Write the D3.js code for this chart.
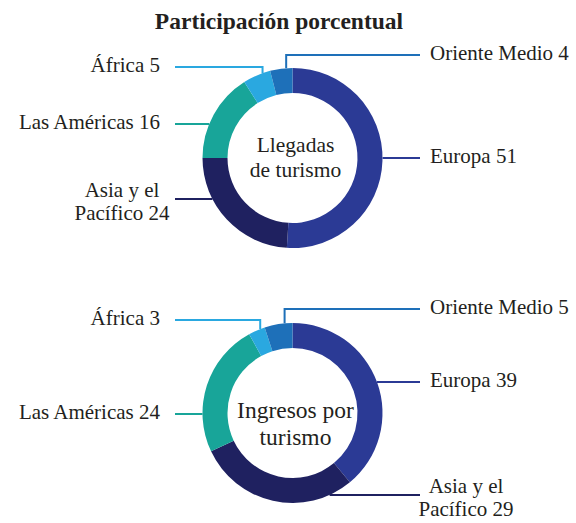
<!DOCTYPE html>
<html>
<head>
<meta charset="utf-8">
<script src="https://cdn.jsdelivr.net/npm/d3@7"></script>
</head>
<body style="margin:0; background:#fff">
<svg width="576" height="523"></svg>
<script>
// data
var regions = ["Europa", "Asia y el Pacífico", "Las Américas", "África", "Oriente Medio"]
var regionLabels = [["Europa"], ["Asia y el", "Pacífico"], ["Las Américas"], ["África"], ["Oriente Medio"]]
var llegadas = [51, 24, 16, 5, 4]
var ingresos = [39, 29, 24, 3, 5]
var regionColors = ["#2b3a95", "#1f2160", "#18a599", "#2aa8e0", "#1e70b9"]

var title = "Participación porcentual"

// per chart layout: where each leader line sits (dy from centre), side and kind
var charts = [
	{
		values: llegadas, cy: 158, center: ["Llegadas", "de turismo"], centerSize: 21.5, centerY: -6, centerGap: 25,
		leaders: [
			{ side: "right", dy: 0, kind: "h" },
			{ side: "left", dy: 41, kind: "h" },
			{ side: "left", dy: -34, kind: "h" },
			{ side: "left", dy: -91, kind: "elbow" },
			{ side: "right", dy: -103, kind: "elbow" }
		]
	},
	{
		values: ingresos, cy: 413, center: ["Ingresos por", "turismo"], centerSize: 23.5, centerY: 5, centerGap: 27,
		leaders: [
			{ side: "right", dy: -31, kind: "h" },
			{ side: "right", dy: 82, kind: "h" },
			{ side: "left", dy: 1, kind: "h" },
			{ side: "left", dy: -93, kind: "elbow" },
			{ side: "right", dy: -104, kind: "elbow" }
		]
	}
]

var FONT = "'Liberation Serif', serif"
var INK = "#231f20"

var svg = d3.select("svg")
var cx = 292.5
var outerR = 90
var innerR = 65
var leftX = 175		// where left leader lines start
var rightX = 420	// where right leader lines end

var color = d3.scaleOrdinal().domain(regions).range(regionColors)

svg.append("text")
	.attr("x", 279)
	.attr("y", 29)
	.attr("text-anchor", "middle")
	.attr("fill", INK)
	.style("font-family", FONT)
	.style("font-size", "23.5px")
	.style("font-weight", "bold")
	.text(title)

var pie = d3.pie().sort(null).value(function(d) { return d.value })
var arc = d3.arc().innerRadius(innerR).outerRadius(outerR)

charts.forEach(function(chart) {
	var rows = regions.map(function(r, i) {
		return { region: r, value: chart.values[i], label: regionLabels[i], leader: chart.leaders[i] }
	})
	var g = svg.append("g").attr("transform", "translate(" + cx + "," + chart.cy + ")")

	g.selectAll("path.slice")
		.data(pie(rows))
		.enter().append("path")
			.attr("class", "slice")
			.attr("d", arc)
			.attr("fill", function(d) { return color(d.data.region) })

	// leader lines + labels
	pie(rows).forEach(function(d) {
		var L = d.data.leader
		var c = color(d.data.region)
		var end = (L.side == "left" ? leftX : rightX) - cx
		var pts
		if (L.kind == "h") {
			var dx = Math.sqrt(outerR * outerR - L.dy * L.dy)
			pts = [[L.side == "left" ? -dx : dx, L.dy], [end, L.dy]]
		} else {
			// anchor a bit past the middle of the slice
			var a = d.startAngle + (d.endAngle - d.startAngle) * 0.72
			var ax = outerR * Math.sin(a)
			var ay = -outerR * Math.cos(a)
			pts = [[ax, ay], [ax, L.dy], [end, L.dy]]
		}
		g.append("path")
			.attr("d", d3.line()(pts))
			.attr("fill", "none")
			.attr("stroke", c)
			.attr("stroke-width", 2)

		var lines = d.data.label.slice()
		lines[lines.length - 1] += " " + d.data.value
		var t = g.append("text")
			.attr("fill", INK)
			.style("font-family", FONT)
			.style("font-size", "21px")
		if (lines.length == 1) {
			t.attr("text-anchor", L.side == "left" ? "end" : "start")
				.attr("x", L.side == "left" ? leftX - cx - 15 : rightX - cx + 10)
				.attr("y", L.dy + 5)
				.text(lines[0])
		} else {
			t.attr("text-anchor", "middle")
			lines.forEach(function(s, j) {
				t.append("tspan")
					.attr("x", L.side == "left" ? leftX - cx - 53 : rightX - cx + 46)
					.attr("y", L.dy - 2 + j * 23)
					.text(s)
			})
		}
	})

	var ct = g.append("text")
		.attr("text-anchor", "middle")
		.attr("fill", INK)
		.style("font-family", FONT)
		.style("font-size", chart.centerSize + "px")
	chart.center.forEach(function(s, j) {
		ct.append("tspan")
			.attr("x", 3)
			.attr("y", chart.centerY + j * chart.centerGap)
			.text(s)
	})
})
</script>
</body>
</html>
